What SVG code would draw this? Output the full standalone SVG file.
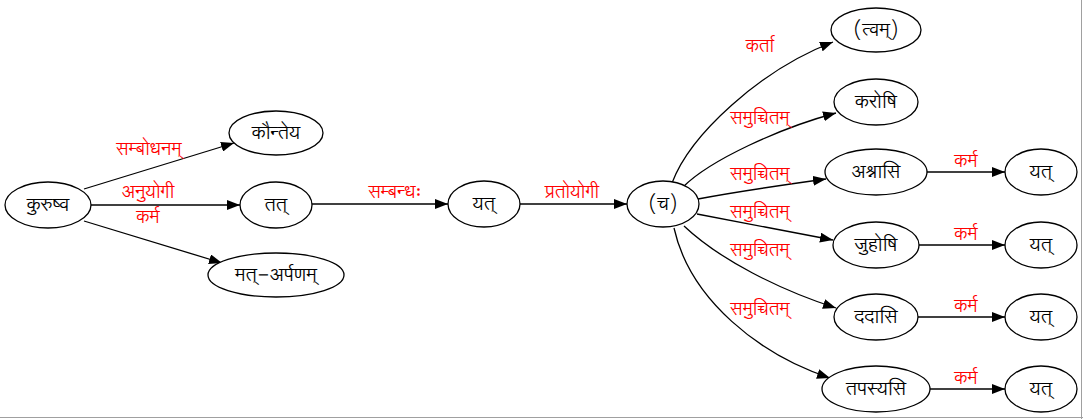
<svg xmlns="http://www.w3.org/2000/svg" width="1083" height="419" viewBox="0 0 1083 419">
<style>
.n ellipse{fill:#fff;stroke:#000;stroke-width:1.3}
.n text{font-family:"Lohit Devanagari","Noto Sans Devanagari",sans-serif;font-size:19px;fill:#000;text-anchor:middle;dominant-baseline:central}
#edges path{fill:none;stroke:#000;stroke-width:1.3}
.l{font-family:"Lohit Devanagari","Noto Sans Devanagari",sans-serif;font-size:18px;fill:#ff0000;text-anchor:middle;dominant-baseline:central}
</style>
<defs>
<marker id="a" markerUnits="userSpaceOnUse" viewBox="0 0 13 10" markerWidth="13" markerHeight="10" refX="13" refY="5" orient="auto">
<path d="M0,0 L13,5 L0,10 z" fill="#000"/>
</marker>
</defs>
<rect width="1083" height="419" fill="#fff"/>
<line x1="0" y1="417.5" x2="1083" y2="417.5" stroke="#a0a0a0" stroke-width="1"/>
<line x1="1081.5" y1="0" x2="1081.5" y2="419" stroke="#a0a0a0" stroke-width="1"/>
<g id="edges">
<path d="M84,189 L234,143" marker-end="url(#a)"/>
<path d="M90,205 L240,205" marker-end="url(#a)"/>
<path d="M84,221 L222,263" marker-end="url(#a)"/>
<path d="M312,204 L448,204" marker-end="url(#a)"/>
<path d="M520,204 L627,204" marker-end="url(#a)"/>
<path d="M672,183 C690,135 760,70 833,42" marker-end="url(#a)"/>
<path d="M683,187 C710,160 780,128 836,113" marker-end="url(#a)"/>
<path d="M698,199 C740,191 790,184 826,179" marker-end="url(#a)"/>
<path d="M697,214 C740,222 790,232 833,240" marker-end="url(#a)"/>
<path d="M684,226 C720,260 780,290 836,308" marker-end="url(#a)"/>
<path d="M674,228 C690,300 760,355 830,378" marker-end="url(#a)"/>
<path d="M927,172 L1005,172" marker-end="url(#a)"/>
<path d="M919,245 L1005,245" marker-end="url(#a)"/>
<path d="M918,317 L1005,317" marker-end="url(#a)"/>
<path d="M930,389 L1005,389" marker-end="url(#a)"/>
</g>
<g id="labels">
<text class="l" x="149" y="149">सम्बोधनम्</text>
<text class="l" x="148" y="192">अनुयोगी<tspan x="148" dy="25">कर्म</tspan></text>
<text class="l" x="395" y="192">सम्बन्धः</text>
<text class="l" x="572" y="192">प्रतोयोगी</text>
<text class="l" x="760" y="46">कर्ता</text>
<text class="l" x="760" y="118">समुच्चितम्</text>
<text class="l" x="760" y="174">समुच्चितम्</text>
<text class="l" x="760" y="212">समुच्चितम्</text>
<text class="l" x="760" y="250">समुच्चितम्</text>
<text class="l" x="760" y="309">समुच्चितम्</text>
<text class="l" x="966" y="161">कर्म</text>
<text class="l" x="966" y="234">कर्म</text>
<text class="l" x="966" y="306">कर्म</text>
<text class="l" x="966" y="378">कर्म</text>
</g>
<g id="n1" class="n"><ellipse cx="48" cy="205" rx="43" ry="23"/><text x="48" y="205">कुरुष्व</text></g>
<g id="n2" class="n"><ellipse cx="276" cy="133" rx="47" ry="22"/><text x="276" y="133">कौन्तेय</text></g>
<g id="n3" class="n"><ellipse cx="276" cy="205" rx="36" ry="23"/><text x="276" y="205">तत्</text></g>
<g id="n4" class="n"><ellipse cx="276" cy="275" rx="68" ry="22"/><text x="276" y="275">मत्-अर्पणम्</text></g>
<g id="n5" class="n"><ellipse cx="484" cy="204" rx="36" ry="23"/><text x="484" y="204">यत्</text></g>
<g id="n6" class="n"><ellipse cx="663" cy="204" rx="36" ry="23"/><text x="663" y="204">(च)</text></g>
<g id="n7" class="n"><ellipse cx="876" cy="30" rx="45" ry="22"/><text x="876" y="30">(त्वम्)</text></g>
<g id="n8" class="n"><ellipse cx="876" cy="102" rx="42" ry="23"/><text x="876" y="102">करोषि</text></g>
<g id="n9" class="n"><ellipse cx="876" cy="172" rx="51" ry="23"/><text x="876" y="172">अश्नासि</text></g>
<g id="n10" class="n"><ellipse cx="876" cy="245" rx="43" ry="23"/><text x="876" y="245">जुहोषि</text></g>
<g id="n11" class="n"><ellipse cx="876" cy="317" rx="42" ry="23"/><text x="876" y="317">ददासि</text></g>
<g id="n12" class="n"><ellipse cx="876" cy="389" rx="54" ry="23"/><text x="876" y="389">तपस्यसि</text></g>
<g id="n13" class="n"><ellipse cx="1041" cy="172" rx="36" ry="23"/><text x="1041" y="172">यत्</text></g>
<g id="n14" class="n"><ellipse cx="1041" cy="245" rx="36" ry="23"/><text x="1041" y="245">यत्</text></g>
<g id="n15" class="n"><ellipse cx="1041" cy="317" rx="36" ry="23"/><text x="1041" y="317">यत्</text></g>
<g id="n16" class="n"><ellipse cx="1041" cy="389" rx="36" ry="23"/><text x="1041" y="389">यत्</text></g>
</svg>
